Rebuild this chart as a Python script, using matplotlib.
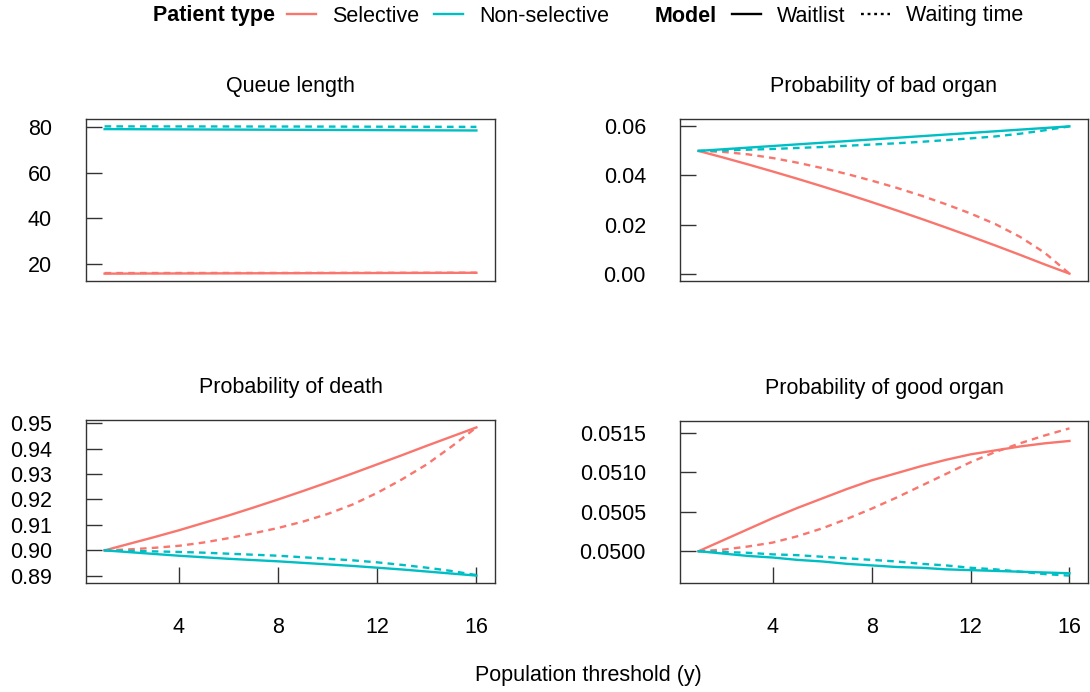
import numpy as np
import matplotlib.pyplot as plt
from matplotlib.lines import Line2D
from matplotlib.ticker import FormatStrFormatter

plt.rcParams['font.family'] = ['Liberation Sans', 'DejaVu Sans']

# threshold values
thresholds = np.arange(1, 17)

# Queue length
queue_sel_wl = [15.8, 15.83, 15.86, 15.88, 15.91, 15.93, 15.96, 15.98, 16.0, 16.02, 16.05, 16.07, 16.1, 16.12, 16.15, 16.18]
queue_sel_wt = [16.05, 16.06, 16.07, 16.08, 16.09, 16.1, 16.1, 16.11, 16.12, 16.13, 16.14, 16.15, 16.16, 16.17, 16.18, 16.2]
queue_non_wl = [79.1, 79.06, 79.02, 78.98, 78.94, 78.9, 78.86, 78.82, 78.78, 78.74, 78.7, 78.66, 78.62, 78.58, 78.54, 78.5]
queue_non_wt = [80.3, 80.29, 80.28, 80.27, 80.26, 80.25, 80.24, 80.23, 80.22, 80.2, 80.18, 80.16, 80.14, 80.12, 80.1, 80.08]

# Probability of bad organ
bad_sel_wl = [0.05, 0.0473, 0.04451, 0.04162, 0.03864, 0.03557, 0.03241, 0.02915, 0.0258, 0.02236, 0.01882, 0.01519, 0.01147, 0.00766, 0.00375, 0.0]
bad_sel_wt = [0.05, 0.0496, 0.0486, 0.0471, 0.0452, 0.0430, 0.0406, 0.0379, 0.0350, 0.0318, 0.0283, 0.0245, 0.0202, 0.0150, 0.0085, 0.0]
bad_non_wl = [0.05, 0.05067, 0.05133, 0.052, 0.05267, 0.05333, 0.054, 0.05467, 0.05533, 0.056, 0.05667, 0.05733, 0.058, 0.05867, 0.05933, 0.06]
bad_non_wt = [0.05, 0.0502, 0.0505, 0.0508, 0.0512, 0.0516, 0.0521, 0.0526, 0.0531, 0.0537, 0.0544, 0.0551, 0.0559, 0.0570, 0.0584, 0.06]

# Probability of death
death_sel_wl = [0.9, 0.9026, 0.9052, 0.9079, 0.9108, 0.9137, 0.9168, 0.92, 0.9233, 0.9267, 0.9302, 0.9338, 0.9374, 0.9411, 0.9447, 0.9483]
death_sel_wt = [0.9, 0.9004, 0.901, 0.9018, 0.9031, 0.9048, 0.9067, 0.9088, 0.9113, 0.9143, 0.918, 0.9226, 0.9279, 0.9338, 0.9408, 0.9483]
death_non_wl = [0.9, 0.8993, 0.8986, 0.8979, 0.8973, 0.8967, 0.8962, 0.8957, 0.8951, 0.8945, 0.8939, 0.8932, 0.8925, 0.8917, 0.8909, 0.8901]
death_non_wt = [0.9, 0.8998, 0.8996, 0.8994, 0.8991, 0.8987, 0.8983, 0.8979, 0.8973, 0.8967, 0.8961, 0.8953, 0.8943, 0.8932, 0.8919, 0.8903]

# Probability of good organ
good_sel_wl = [0.05, 0.05014, 0.05028, 0.05042, 0.05055, 0.05067, 0.05079, 0.0509, 0.05099, 0.05108, 0.05116, 0.05123, 0.05128, 0.05133, 0.05137, 0.0514]
good_sel_wt = [0.05, 0.05002, 0.05006, 0.05011, 0.05019, 0.05029, 0.05041, 0.05054, 0.05068, 0.05083, 0.05098, 0.05113, 0.05126, 0.05137, 0.05147, 0.05156]
good_non_wl = [0.05, 0.04997, 0.04994, 0.04992, 0.04989, 0.04987, 0.04984, 0.04982, 0.0498, 0.04979, 0.04977, 0.04976, 0.04975, 0.04974, 0.04973, 0.04972]
good_non_wt = [0.05, 0.04999, 0.04998, 0.04996, 0.04995, 0.04993, 0.04991, 0.04989, 0.04987, 0.04984, 0.04982, 0.04979, 0.04977, 0.04974, 0.04971, 0.04969]

panel_titles = ["Queue length", "Probability of bad organ", "Probability of death", "Probability of good organ"]
panel_yticks = [[20, 40, 60, 80], [0.0, 0.02, 0.04, 0.06],
                [0.89, 0.90, 0.91, 0.92, 0.93, 0.94, 0.95], [0.05, 0.0505, 0.051, 0.0515]]
panel_fmt = ['%d', '%.2f', '%.2f', '%.4f']
x_ticks = [4, 8, 12, 16]

SEL = '#F8766D'
NON = '#00BFC4'
DARK = '#333333'
W, H = 1090, 692
LW = 1.7
DASH = (2.8, 2.2)
FS = 15.5

fig = plt.figure(figsize=(W / 100, H / 100), dpi=100)


def px_axes(l, t, r, b):
    return fig.add_axes([l / W, 1 - b / H, (r - l) / W, (b - t) / H])


boxes = [(86, 119, 495, 281), (680, 119, 1088, 281), (86, 420, 495, 583), (680, 421, 1088, 583)]
data = [(queue_sel_wl, queue_sel_wt, queue_non_wl, queue_non_wt),
        (bad_sel_wl, bad_sel_wt, bad_non_wl, bad_non_wt),
        (death_sel_wl, death_sel_wt, death_non_wl, death_non_wt),
        (good_sel_wl, good_sel_wt, good_non_wl, good_non_wt)]

for i in range(4):
    ax = px_axes(*boxes[i])
    sw, st, nw, nt = data[i]
    ax.plot(thresholds, sw, color=SEL, lw=LW)
    ax.plot(thresholds, st, color=SEL, lw=LW, ls=(0, DASH))
    ax.plot(thresholds, nw, color=NON, lw=LW)
    ax.plot(thresholds, nt, color=NON, lw=LW, ls=(0, DASH))
    ax.margins(x=0.05, y=0.05)
    ax.set_yticks(panel_yticks[i])
    ax.yaxis.set_major_formatter(FormatStrFormatter(panel_fmt[i]))
    ax.set_title(panel_titles[i], fontsize=FS, pad=19.5)
    for sp in ax.spines.values():
        sp.set_color(DARK)
        sp.set_linewidth(1.0)
    ax.tick_params(direction='in', length=11.5, width=1.0, colors=DARK,
                   labelcolor='black', labelsize=FS, pad=24.5)
    if i < 2:
        ax.set_xticks([])
    else:
        ax.set_xticks(x_ticks)

fig.text(588 / W, 1 - 675 / H, "Population threshold (y)", fontsize=FS,
         ha='center', va='center')

# legends
fig.text(153 / W, 1 - 16 / H, "Patient type", fontsize=FS, fontweight='bold',
         ha='left', va='center')
fig.text(655 / W, 1 - 16 / H, "Model", fontsize=FS, fontweight='bold',
         ha='left', va='center')
h1 = [Line2D([], [], color=SEL, lw=LW), Line2D([], [], color=NON, lw=LW)]
leg1 = fig.legend(h1, ["Selective", "Non-selective"], loc='center left',
                  bbox_to_anchor=(287 / W, 1 - 16 / H), ncol=2, frameon=False,
                  fontsize=FS, handlelength=1.35, handletextpad=0.75,
                  columnspacing=0.7, borderaxespad=0, borderpad=0)
h2 = [Line2D([], [], color='black', lw=LW), Line2D([], [], color='black', lw=LW, ls=(0, (1.2, 1.6)))]
leg2 = fig.legend(h2, ["Waitlist", "Waiting time"], loc='center left',
                  bbox_to_anchor=(732 / W, 1 - 16 / H), ncol=2, frameon=False,
                  fontsize=FS, handlelength=1.35, handletextpad=0.75,
                  columnspacing=0.7, borderaxespad=0, borderpad=0)

fig.savefig("out.png", dpi=100)
